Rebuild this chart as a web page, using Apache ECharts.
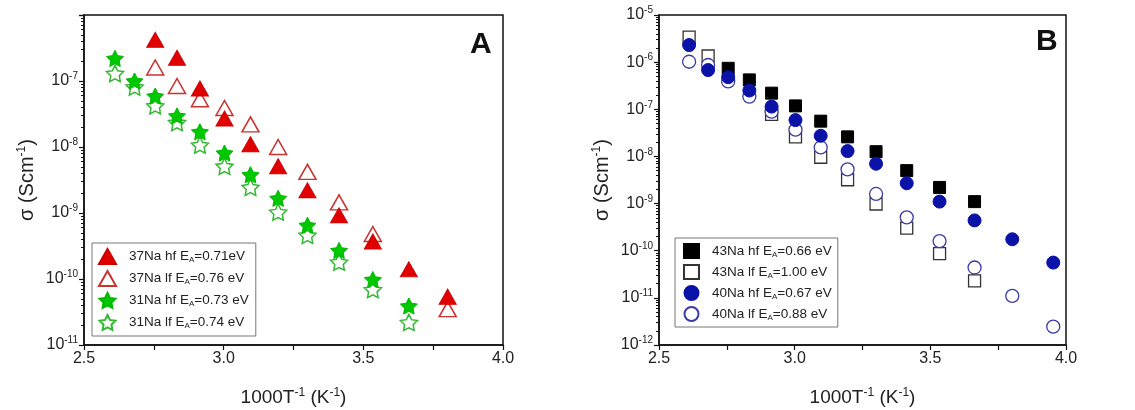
<!DOCTYPE html>
<html>
<head>
<meta charset="utf-8">
<script src="https://cdn.jsdelivr.net/npm/echarts@6/dist/echarts.min.js"></script>
<style>html,body{margin:0;padding:0;background:#fff;}#c{width:1135px;height:410px;}</style>
</head>
<body>
<div id="c"></div>
<script>
// 1000/T positions (K^-1)
const invT = [2.611, 2.681, 2.755, 2.833, 2.915, 3.003, 3.096, 3.195, 3.300, 3.413, 3.534, 3.663, 3.802, 3.953];
// Panel A (S/cm), null = not present
const na37hf = [null, null, 4.2e-7, 2.25e-7, 7.7e-8, 2.7e-8, 1.1e-8, 5.1e-9, 2.2e-9, 9.2e-10, 3.7e-10, 1.4e-10, 5.4e-11, null];
const na37lf = [null, null, 1.6e-7, 8.4e-8, 5.3e-8, 3.9e-8, 2.2e-8, 1.0e-8, 4.2e-9, 1.45e-9, 4.8e-10, null, 3.5e-11, null];
const na31hf = [2.2e-7, 1.0e-7, 5.9e-8, 2.96e-8, 1.7e-8, 8.1e-9, 3.8e-9, 1.67e-9, 6.5e-10, 2.7e-10, 9.8e-11, 3.9e-11, null, null];
const na31lf = [1.3e-7, 8.1e-8, 4.2e-8, 2.35e-8, 1.07e-8, 5.1e-9, 2.45e-9, 1.03e-9, 4.6e-10, 1.8e-10, 6.9e-11, 2.2e-11, null, null];
// Panel B
const na43hf = [null, null, 7.4e-7, 4.2e-7, 2.2e-7, 1.18e-7, 5.6e-8, 2.6e-8, 1.26e-8, 5.0e-9, 2.2e-9, 1.1e-9, null, null];
const na43lf = [3.4e-6, 1.35e-6, null, null, 7.8e-8, 2.6e-8, 9.6e-9, 3.2e-9, 9.8e-10, 3.0e-10, 8.7e-11, 2.3e-11, null, null];
const na40hf = [2.3e-6, 6.8e-7, 4.8e-7, 2.5e-7, 1.14e-7, 5.9e-8, 2.74e-8, 1.3e-8, 7.0e-9, 2.7e-9, 1.1e-9, 4.4e-10, 1.75e-10, 5.6e-11];
const na40lf = [1.02e-6, 8.7e-7, 3.9e-7, 1.86e-7, 8.9e-8, 3.7e-8, 1.55e-8, 5.3e-9, 1.6e-9, 5.1e-10, 1.6e-10, 4.4e-11, 1.1e-11, 2.45e-12];

const xTicks = [2.5, 3.0, 3.5, 4.0];
const namesA = ['37Na hf E{s|A}=0.71eV', '37Na lf E{s|A}=0.76 eV', '31Na hf E{s|A}=0.73 eV', '31Na lf E{s|A}=0.74 eV'];
const namesB = ['43Na hf E{s|A}=0.66 eV', '43Na lf E{s|A}=1.00 eV', '40Na hf E{s|A}=0.67 eV', '40Na lf E{s|A}=0.88 eV'];

function pairs(ys) {
  const out = [];
  ys.forEach((y, i) => { if (y !== null) out.push([invT[i], y]); });
  return out;
}
const STAR = 'path://M0,-10 L2.94,-4.05 L9.51,-3.09 L4.76,1.55 L5.88,8.09 L0,5 L-5.88,8.09 L-4.76,1.55 L-9.51,-3.09 L-2.94,-4.05 Z';
const FONT = "Arial, 'Liberation Sans', sans-serif";

function xAxis(gi) {
  return {
    type: 'value', gridIndex: gi, min: 2.5, max: 4.0, interval: 0.5,
    axisLine: {show: true, onZero: false, lineStyle: {color: '#111', width: 1.5}},
    axisTick: {show: true, inside: false, length: 5, lineStyle: {color: '#111', width: 1.2}},
    minorTick: {show: true, splitNumber: 2, length: 5, lineStyle: {color: '#111', width: 1.2}},
    splitLine: {show: false},
    axisLabel: {color: '#222', fontSize: 16, fontFamily: FONT, margin: 6,
      formatter: v => xTicks.includes(Math.round(v * 10) / 10) ? v.toFixed(1) : ''},
    name: '1000T{sup|-1} (K{sup|-1})', nameLocation: 'middle', nameGap: 42,
    nameTextStyle: {color: '#222', fontSize: 19, fontFamily: FONT, lineHeight: 22,
      rich: {sup: {fontSize: 12, fontFamily: FONT, color: '#222', verticalAlign: 'top', lineHeight: 22, padding:[0,0,8,0]}}}
  };
}
function yAxis(gi, min, max, hideTop) {
  return {
    type: 'log', gridIndex: gi, min: min, max: max, logBase: 10,
    axisLine: {show: true, onZero: false, lineStyle: {color: '#111', width: 1.5}},
    axisTick: {show: true, inside: false, length: 5, lineStyle: {color: '#111', width: 1.2}},
    minorTick: {show: true, splitNumber: 9, length: 3, lineStyle: {color: '#111', width: 1}},
    splitLine: {show: false},
    axisLabel: {color: '#222', fontSize: 16, fontFamily: FONT, margin: 6,
      formatter: v => {
        const e = Math.round(Math.log10(v));
        if (hideTop && Math.abs(v - max) / max < 1e-6) return '';
        return '10{sup|' + e + '}';
      },
      rich: {sup: {fontSize: 10, fontFamily: FONT, color: '#222', verticalAlign: 'top', padding: [0,0,9,0]}}},
    name: 'σ (Scm{sup|-1})', nameLocation: 'middle', nameGap: 46, nameRotate: 90,
    nameTextStyle: {color: '#222', fontSize: 20, fontFamily: FONT, lineHeight: 22,
      rich: {sup: {fontSize: 12, fontFamily: FONT, color: '#222', verticalAlign: 'top', padding:[0,0,9,0]}}}
  };
}
function sc(name, gi, ys, symbol, size, fill, border, bw) {
  return {
    type: 'scatter', name: name, xAxisIndex: gi, yAxisIndex: gi,
    data: pairs(ys), symbol: symbol, symbolSize: size, symbolKeepAspect: true,
    itemStyle: {color: fill, borderColor: border, borderWidth: bw, opacity: 1},
    emphasis: {disabled: true}
  };
}
const legendText = {color: '#222', fontSize: 13.5, fontFamily: FONT, lineHeight: 15, padding: [0, 0, 0, 8],
  rich: {s: {fontSize: 8, fontFamily: FONT, color: '#222', verticalAlign: 'bottom', lineHeight: 15, padding: [6,0,0,0]}}};

const option = {
  animation: false,
  backgroundColor: '#fff',
  grid: [
    {left: 84, right: 632, top: 15, bottom: 65, show: true, borderColor: '#111', borderWidth: 1.5, backgroundColor: 'transparent', outerBoundsMode: 'none', containLabel: false},
    {left: 659, right: 69, top: 15, bottom: 65, show: true, borderColor: '#111', borderWidth: 1.5, backgroundColor: 'transparent', outerBoundsMode: 'none', containLabel: false}
  ],
  xAxis: [xAxis(0), xAxis(1)],
  yAxis: [yAxis(0, 1e-11, 1e-6, true), yAxis(1, 1e-12, 1e-5, false)],
  legend: [
    {data: namesA, orient: 'vertical', left: 92, top: 243, itemWidth: 17, itemHeight: 15, itemGap: 5,
     padding: [5, 7, 5, 6], borderColor: '#777', borderWidth: 1, textStyle: legendText, selectedMode: false},
    {data: namesB, orient: 'vertical', left: 675, top: 238, itemWidth: 15, itemHeight: 14, itemGap: 5,
     padding: [5, 6, 5, 8], borderColor: '#777', borderWidth: 1, textStyle: legendText, selectedMode: false}
  ],
  graphic: [
    {type: 'text', left: 470, top: 30, style: {text: 'A', font: 'bold 30px ' + FONT, fill: '#111'}},
    {type: 'text', left: 1036, top: 27, style: {text: 'B', font: 'bold 30px ' + FONT, fill: '#111'}}
  ],
  series: [
    sc(namesA[1], 0, na37lf, 'triangle', [17, 15], '#fff', '#c8332f', 1.5),
    sc(namesA[0], 0, na37hf, 'triangle', [17, 15], '#e00000', '#d00000', 1),
    sc(namesA[3], 0, na31lf, STAR, 17, '#fff', '#33b833', 1.5),
    sc(namesA[2], 0, na31hf, STAR, 17, '#00c800', '#00b800', 1),
    sc(namesB[0], 1, na43hf, 'rect', 12, '#000', '#000', 1),
    sc(namesB[1], 1, na43lf, 'rect', 12, '#fff', '#333', 1.3),
    sc(namesB[3], 1, na40lf, 'circle', 13, '#fff', '#3b3ba5', 1.3),
    sc(namesB[2], 1, na40hf, 'circle', 13, '#0a12a8', '#0a12a8', 1)
  ]
};
const chart = echarts.init(document.getElementById('c'), null, {renderer: 'canvas'});
chart.setOption(option);
</script>
</body>
</html>
